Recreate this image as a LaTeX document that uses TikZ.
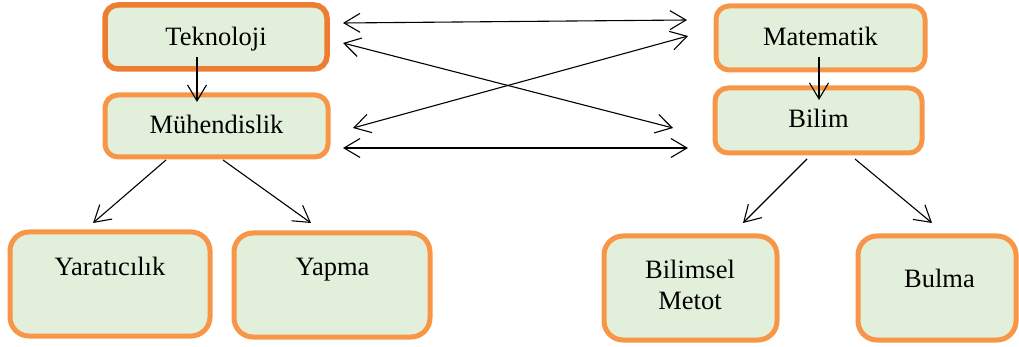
\documentclass[tikz,border=0pt]{standalone}
\usepackage{fontspec}
\setmainfont{Liberation Serif}
\newfontfamily\labelfont{Liberation Serif}
\usetikzlibrary{arrows.meta,calc}
\definecolor{boxfill}{HTML}{E2EFDA}
\definecolor{edgeorange}{HTML}{F79646}
\definecolor{edgedark}{HTML}{ED7D31}
\tikzset{
  box/.style={draw=edgeorange, fill=boxfill, line width=5pt, outer sep=0pt,
    inner sep=0pt, rounded corners=13pt},
  bigbox/.style={box, rounded corners=19pt},
  txt/.style={anchor=base, inner sep=0pt, font=\labelfont\fontsize{26.5}{31}\selectfont, align=center},
  arr/.style={line width=1.1pt, -{Straight Barb[length=16pt,width=19pt]}},
  darr/.style={line width=1.1pt, {Straight Barb[length=16pt,width=19pt]}-{Straight Barb[length=16pt,width=19pt]}}
}
\begin{document}
\begin{tikzpicture}[x=1pt,y=-1pt]
\useasboundingbox (0,0) rectangle (1019,347);

% upper row
\node[box, draw=edgedark, line width=5.5pt, minimum width=222pt, minimum height=64pt] (tek) at (216,37) {};
\node[box, minimum width=223pt, minimum height=62pt] (muh) at (216.5,126) {};
\node[box, minimum width=209pt, minimum height=64pt] (mat) at (820.5,38) {};
\node[box, minimum width=207pt, minimum height=65pt] (bil) at (818.5,120.5) {};

% lower row
\node[bigbox, minimum width=200pt, minimum height=104pt] (yar) at (110,284) {};
\node[bigbox, minimum width=196pt, minimum height=104pt] (yap) at (332,285) {};
\node[bigbox, minimum width=173pt, minimum height=104pt] (bm) at (690.5,288) {};
\node[bigbox, minimum width=158pt, minimum height=104pt] (bul) at (937,288) {};

% labels
\node[txt] (tekt) at (216,46) {Teknoloji};
\node[txt] (muht) at (216.5,134) {Mühendislik};
\node[txt] (matt) at (820.5,46) {Matematik};
\node[txt] (bilt) at (818.5,128) {Bilim};
\node[txt] (yart) at (110,275) {Yaratıcılık};
\node[txt] (yapt) at (332.5,276) {Yapma};
\node[txt] (bmt1) at (690,278) {Bilimsel};
\node[txt] (bmt2) at (690,309) {Metot};
\node[txt] (bult) at (939.5,287) {Bulma};

% vertical links
\draw[arr] ($(tek.south)+(-19,-12)$) -- ($(muh.north)+(-19.5,7)$);
\draw[arr] ($(mat.south)+(-1.5,-13)$) -- ($(bil.north)+(0.5,12)$);

% links between the two groups
\draw[darr] ($(tek.east)+(16,-14)$) -- ($(mat.west)+(-29,-18)$);
\draw[darr] ($(tek.east)+(16,6)$) -- ($(bil.west)+(-42,7.5)$);
\draw[darr] ($(muh.east)+(25,2)$) -- ($(mat.west)+(-28,-2)$);
\draw[darr] ($(muh.east)+(15,22)$) -- ($(bil.west)+(-27,27.5)$);

% branches to the lower row
\draw[arr] ($(muh.south)+(-50.5,3)$) -- ($(yar.north)+(-17,-9)$);
\draw[arr] ($(muh.south)+(6.5,3)$) -- ($(yap.north)+(-21,-10)$);
\draw[arr] ($(bil.south)+(-11.5,6)$) -- ($(bm.north)+(52.5,-13)$);
\draw[arr] ($(bil.south)+(36.5,6)$) -- ($(bul.north)+(-5,-13)$);
\end{tikzpicture}
\end{document}
